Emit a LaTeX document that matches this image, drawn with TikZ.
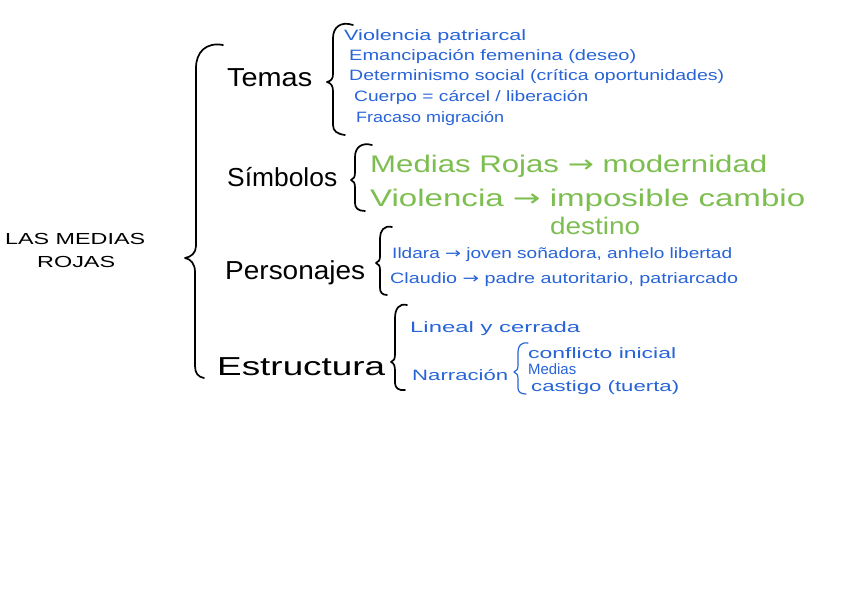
\documentclass[tikz,border=0pt]{standalone}
\usepackage{fontspec}
\usepackage{graphicx}
\setmainfont{Liberation Sans}
\newfontfamily\dvfont{DejaVu Sans}
\newcommand{\ar}{{\dvfont →}}
\newcommand{\hw}[2]{\resizebox{#1}{\height}{#2}}
\definecolor{inkblue}{RGB}{40,100,215}
\definecolor{inkgreen}{RGB}{125,190,80}
\tikzset{
  txt/.style={inner sep=0pt, anchor=base west},
  head/.style={txt, font=\fontsize{26}{28}\selectfont, text=black},
  bluetxt/.style={txt, font=\fontsize{15}{17}\selectfont, text=inkblue},
  greentxt/.style={txt, font=\fontsize{24}{26}\selectfont, text=inkgreen},
  roottxt/.style={txt, font=\fontsize{16}{18}\selectfont, text=black},
  bracepen/.style={line width=1.7pt, line cap=round, line join=round, black},
  subbrace/.style={line width=1.2pt, line cap=round, line join=round, inkblue},
}
\begin{document}
\begin{tikzpicture}[x=1pt,y=-1pt]
\useasboundingbox[fill=white] (0,0) rectangle (848,601);

% root
\node[roottxt] (r1) at (5,245) {\hw{140pt}{LAS MEDIAS}};
\node[roottxt] (r2) at (37,268) {\hw{78pt}{ROJAS}};

% main brace
\draw[bracepen] (223,45) .. controls (206,42) and (196,52) .. (196,68)
  -- (196,246) .. controls (196,253) and (191,257) .. (185,258)
  .. controls (191,259) and (195,264) .. (195,272)
  -- (195,366) .. controls (195,373) and (198,377) .. (204,378);

% headings
\node[head] (temas) at (227,87) {\hw{85pt}{Temas}};
\node[head] (simb) at (227,187) {\hw{110pt}{Símbolos}};
\node[head] (pers) at (225,280) {\hw{140pt}{Personajes}};
\node[head] (estr) at (217,375) {\hw{168pt}{Estructura}};

% Temas brace
\draw[bracepen] (353,25) .. controls (341,21) and (333,27) .. (333,38)
  -- (333,74) .. controls (333,79) and (331,81) .. (327,82)
  .. controls (331,83) and (333,86) .. (333,91)
  -- (333,125) .. controls (333,131) and (337,134) .. (345,135);
\node[bluetxt] (t1) at (344,41) {\hw{182pt}{Violencia patriarcal}};
\node[bluetxt] (t2) at (349,61) {\hw{287pt}{Emancipación femenina (deseo)}};
\node[bluetxt] (t3) at (349,81) {\hw{375pt}{Determinismo social (crítica oportunidades)}};
\node[bluetxt] (t4) at (354,102) {\hw{234pt}{Cuerpo = cárcel / liberación}};
\node[bluetxt] (t5) at (356,123) {\hw{148pt}{Fracaso migración}};

% Simbolos brace
\draw[bracepen] (372,145) .. controls (361,142) and (355,148) .. (355,157)
  -- (355,172) .. controls (355,177) and (354,179) .. (351,180)
  .. controls (354,181) and (355,183) .. (355,188)
  -- (355,203) .. controls (355,208) and (358,211) .. (365,211);
\node[greentxt] (s1) at (370,173) {\hw{397pt}{Medias Rojas \ar{} modernidad}};
\node[greentxt] (s2) at (370,207) {\hw{435pt}{Violencia \ar{} imposible cambio}};
\node[greentxt] (s3) at (550,235) {\hw{90pt}{destino}};

% Personajes brace
\draw[bracepen] (392,227) .. controls (384,225) and (380,231) .. (380,238)
  -- (380,256) .. controls (380,260) and (379,262) .. (376,263)
  .. controls (379,264) and (380,266) .. (380,270)
  -- (380,288) .. controls (380,292) and (382,295) .. (387,295);
\node[bluetxt] (p1) at (392,259) {\hw{340pt}{Ildara \ar{} joven soñadora, anhelo libertad}};
\node[bluetxt] (p2) at (390,284) {\hw{348pt}{Claudio \ar{} padre autoritario, patriarcado}};

% Estructura brace
\draw[bracepen] (407,305) .. controls (399,303) and (395,309) .. (395,318)
  -- (395,354) .. controls (395,359) and (394,361) .. (391,362)
  .. controls (394,363) and (395,366) .. (395,371)
  -- (395,383) .. controls (395,388) and (399,391) .. (405,390);
\node[bluetxt] (e1) at (410,333) {\hw{170pt}{Lineal y cerrada}};
\node[bluetxt] (e2) at (412,380) {\hw{96pt}{Narración}};

% Narracion sub-brace
\draw[subbrace] (528,343) .. controls (521,342) and (518,346) .. (518,352)
  -- (518,365) .. controls (518,369) and (517,371) .. (514,372)
  .. controls (517,373) and (518,375) .. (518,379)
  -- (518,388) .. controls (518,392) and (521,394) .. (526,394);
\node[bluetxt] (n1) at (528,358) {\hw{148pt}{conflicto inicial}};
\node[bluetxt] (n2) at (528,374) {\hw{48pt}{Medias}};
\node[bluetxt] (n3) at (531,391) {\hw{148pt}{castigo (tuerta)}};
\end{tikzpicture}
\end{document}
